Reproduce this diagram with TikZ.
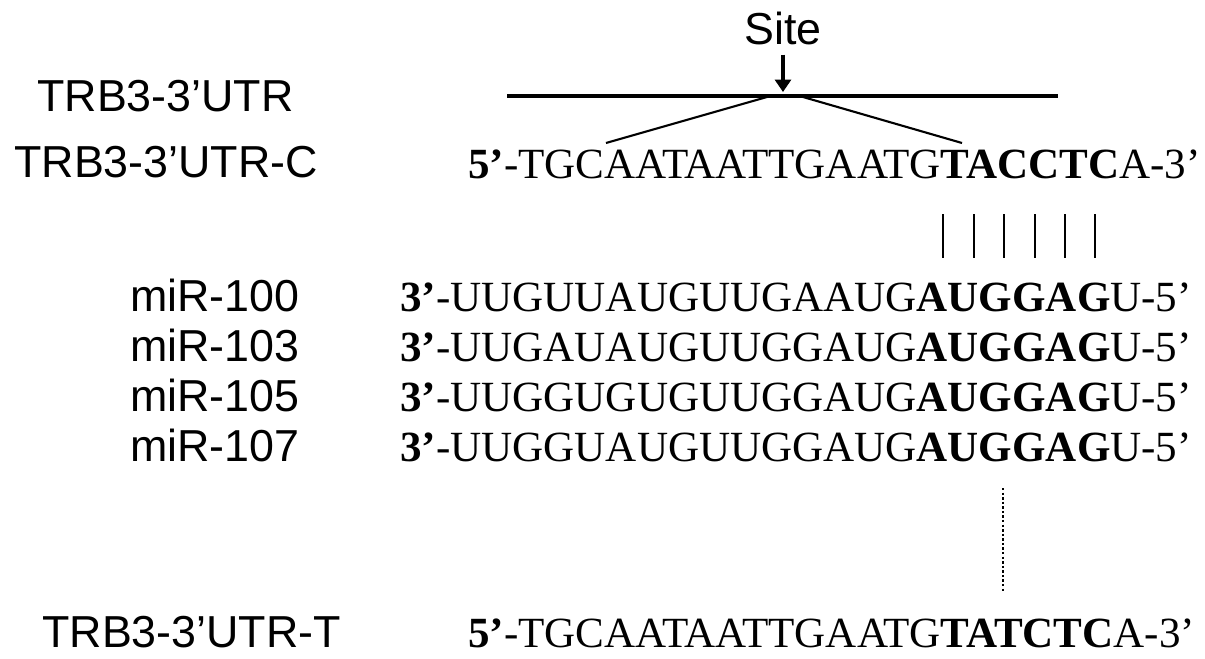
\documentclass[tikz,border=0pt]{standalone}
\usepackage{fontspec}
\setmainfont{Liberation Serif}
\setsansfont{Liberation Sans}
\usepackage{tikz}
\usetikzlibrary{arrows.meta}

\begin{document}
\begin{tikzpicture}[x=0.02cm,y=-0.02cm]
    \tikzset{
        lbl/.style={anchor=base west,inner sep=0pt,font=\sffamily\fontsize{25.5}{30}\selectfont},
        seq/.style={anchor=base west,inner sep=0pt,font=\rmfamily\fontsize{24.5}{29}\selectfont},
        pair/.style={line width=1.6pt}
    }
    \useasboundingbox (0,0) rectangle (1205,659);
    \foreach \n/\x/\y/\l in{
    utr/37/112/{TRB3-3'UTR},
    utrc/14/177/{TRB3-3'UTR-C},
    m100/130/311/{miR-100},
    m103/130/361/{miR-103},
    m105/130/411/{miR-105},
    m107/130/461/{miR-107},
    utrt/42/647/{TRB3-3'UTR-T}
    }
    {
        \node[lbl] (\n) at (\x,\y) {\l};
    }
    \foreach \n/\x/\y/\s in{
    sc/468/178/{\textbf{5'}-TGCAATAATTGAATG\textbf{TACCTC}A-3'},
    s100/400/311/{\textbf{3'}-UUGUUAUGUUGAAUG\textbf{AUGGAG}U-5'},
    s103/400/361/{\textbf{3'}-UUGAUAUGUUGGAUG\textbf{AUGGAG}U-5'},
    s105/400/411/{\textbf{3'}-UUGGUGUGUUGGAUG\textbf{AUGGAG}U-5'},
    s107/400/461/{\textbf{3'}-UUGGUAUGUUGGAUG\textbf{AUGGAG}U-5'},
    st/468/647/{\textbf{5'}-TGCAATAATTGAATG\textbf{TATCTC}A-3'}
    }
    {
        \node[seq] (\n) at (\x,\y) {\s};
    }
    \node[lbl,anchor=base] (site) at (783,45) {Site};
    \coordinate (tip) at (783,92);
    \coordinate (u0) at (507,96);
    \coordinate (u1) at (1058,96);
    \coordinate (cl) at (767,97);
    \coordinate (cr) at (803,97);
    \coordinate (bl) at (606,143);
    \coordinate (br) at (962,143);
    \draw[line width=2pt,-{Triangle[width=9pt,length=7pt]}] ([yshift=-5pt]site.south) -- (tip);
    \draw[line width=2pt] (u0) -- (u1);
    \draw[line width=1.2pt] (cl) -- (bl);
    \draw[line width=1.2pt] (cr) -- (br);
    \foreach \x in {943,974,1004,1035,1065,1095}
    {
        \draw[pair] (\x,214) -- (\x,258);
    }
    \draw[line width=1.4pt,dash pattern=on 1.4pt off 1.2pt] (1003,488) -- (1003,592);
\end{tikzpicture}
\end{document}
